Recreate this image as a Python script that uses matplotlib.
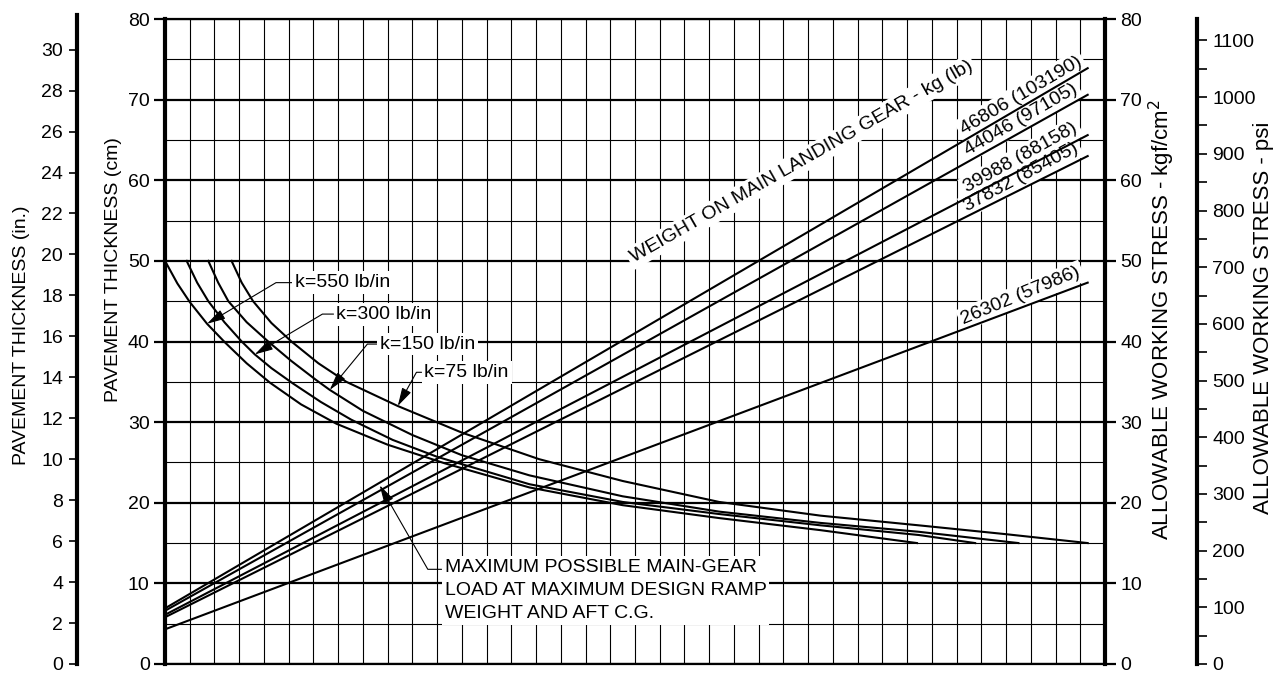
### 舗装厚さ設計チャート
import matplotlib
matplotlib.use('Agg')
import matplotlib.pyplot as plt
from matplotlib.ticker import MultipleLocator

plt.rcParams['font.family'] = ['Liberation Sans', 'DejaVu Sans']

### --- 目盛り --- ###
cm_ticks = list(range(0, 81, 10))
in_ticks = list(range(0, 31, 2))
psi_ticks = list(range(0, 1101, 100))
n_cols = 38
CM_PER_IN = 2.54
PSI_PER_KGF = 14.223

### --- 主脚荷重ライン (kg, lb) --- ###
w_kg = ['46806', '44046', '39988', '37832', '26302']
w_lb = ['103190', '97105', '88158', '85405', '57986']
w_x = [0, 37.3]
w_y0 = [6.9, 6.6, 6.1, 5.8, 4.3]
w_y1 = [73.9, 70.6, 65.6, 63.0, 47.3]
w_rot = [30.5, 30.0, 29.0, 28.3, 22.5]

### --- k値カーブ --- ###
k_names = ['k=550 lb/in', 'k=300 lb/in', 'k=150 lb/in', 'k=75 lb/in']
k550_x = [0, 0.5, 1.0, 1.7, 2.42, 3.3, 4.24, 5.5, 6.93, 9.0, 11.3, 14.73, 18.5, 22.4, 26.5, 30.4]
k550_y = [50, 47.2, 44.9, 42.2, 39.9, 37.3, 34.9, 32.2, 29.8, 27.2, 24.9, 21.9, 19.7, 18.1, 16.6, 15.0]
k300_x = [0.875, 1.3, 1.75, 2.4, 3.1, 3.63, 4.3, 5.17, 6.3, 7.53, 9.2, 11.0, 14.73, 18.5, 22.4,
          26.5, 30.47, 32.75]
k300_y = [50, 47.3, 45, 42.4, 40, 38.4, 36.7, 34.8, 32.5, 30.3, 27.8, 25.7, 22.3, 20.1, 18.6,
          17.2, 16.0, 15.0]
k150_x = [1.75, 2.15, 2.56, 3.3, 4.17, 5.1, 6.12, 6.66, 8.0, 10.0, 12.0, 14.73, 18.5, 22.4,
          26.5, 30.47, 34.5]
k150_y = [50, 47.3, 45, 42.4, 40, 37.6, 35.2, 34.0, 31.4, 28.4, 25.9, 23.4, 20.8, 18.9,
          17.5, 16.4, 15.0]
k75_x = [2.69, 3.1, 3.56, 4.3, 5.11, 6.2, 7.33, 9.41, 12.0, 15.13, 18.5, 22.4, 26.5, 30.47,
         34.0, 37.3]
k75_y = [50, 47.3, 45, 42.3, 40, 37.3, 35, 32.0, 28.7, 25.4, 22.7, 20.1, 18.4, 17.2,
         16.1, 15.0]

fs = 14
tfs = 14
white = dict(boxstyle='square,pad=0.15', fc='white', ec='none')
arrow = '-|>,head_length=0.8,head_width=0.22'

fig = plt.figure(figsize=(12.87, 6.74), dpi=100)
ax = fig.add_axes([165 / 1287, 10 / 674, 940 / 1287, 645 / 674])
ax.set_xlim(0, n_cols)
ax.set_ylim(0, 80)

# グリッド
ax.set_xticks(range(0, n_cols + 1))
ax.set_yticks(cm_ticks)
ax.yaxis.set_minor_locator(MultipleLocator(5))
ax.grid(axis='x', which='major', color='black', lw=0.8)
ax.grid(axis='y', which='major', color='black', lw=1.6)
ax.grid(axis='y', which='minor', color='black', lw=0.8)
ax.tick_params(axis='x', length=0, labelbottom=False)
ax.tick_params(axis='y', which='minor', length=0)
for s in ['left', 'right']:
    ax.spines[s].set_linewidth(3)
for s in ['top', 'bottom']:
    ax.spines[s].set_linewidth(1.6)

# インチ軸
ax_in = ax.twinx()
ax_in.set_ylim(0, 80 / CM_PER_IN)
for s in ['top', 'bottom', 'right']:
    ax_in.spines[s].set_visible(False)
ax_in.spines['left'].set_visible(True)
ax_in.spines['left'].set_position(('axes', -88 / 940))
ax_in.spines['left'].set_linewidth(3)
ax_in.spines['left'].set_bounds(0, 31.7)
ax_in.yaxis.tick_left()
ax_in.set_yticks(in_ticks)
ax_in.tick_params(axis='y', length=6, width=1.2, labelsize=tfs, pad=4)

# psi軸
ax_psi = ax.twinx()
ax_psi.set_ylim(0, 80 * PSI_PER_KGF)
for s in ['top', 'bottom', 'left']:
    ax_psi.spines[s].set_visible(False)
ax_psi.spines['right'].set_position(('axes', 1 + 92 / 940))
ax_psi.spines['right'].set_linewidth(3)
ax_psi.set_yticks(psi_ticks)
ax_psi.yaxis.set_minor_locator(MultipleLocator(50))
ax_psi.tick_params(axis='y', which='both', length=7, width=1.2, labelsize=tfs, pad=4)

ax.yaxis.set_ticks_position('both')
ax.tick_params(axis='y', which='major', left=True, right=True, labelleft=True,
               labelright=True, length=8, width=1.6, labelsize=tfs, pad=3)

# 荷重ライン
for i in range(len(w_kg)):
    ax.plot(w_x, [w_y0[i], w_y1[i]], color='black', lw=1.5, zorder=4)
    xm = 34.6
    ym = w_y0[i] + (w_y1[i] - w_y0[i]) * xm / w_x[1] + 1.5
    ax.text(xm, ym, f'{w_kg[i]} ({w_lb[i]})', rotation=w_rot[i], ha='center',
            va='center', fontsize=fs, bbox=white, zorder=3)

ax.text(25.72, 62.3, 'WEIGHT ON MAIN LANDING GEAR - kg (lb)', rotation=29.7,
        ha='center', va='center', fontsize=fs, bbox=white, zorder=3)

# k値カーブ
for xs, ys in [(k550_x, k550_y), (k300_x, k300_y), (k150_x, k150_y), (k75_x, k75_y)]:
    ax.plot(xs, ys, color='black', lw=1.5, zorder=4)

k_text = [(5.25, 47.3), (6.93, 43.4), (8.68, 39.68), (10.49, 36.18)]
k_tip = [(1.7, 42.2), (3.63, 38.4), (6.66, 34.0), (9.41, 32.0)]
k_ang = [30.8, 30.8, 50.6, 61.0]
for name, xt, tip, ang in zip(k_names, k_text, k_tip, k_ang):
    ax.annotate(name, xy=tip, xytext=xt, ha='left', va='center', fontsize=fs,
                bbox=white, zorder=5,
                arrowprops=dict(arrowstyle=arrow,
                                connectionstyle=f'angle,angleA=0,angleB={ang},rad=0',
                                color='black', lw=0.8, shrinkA=0, shrinkB=0,
                                relpos=(0, 0.5)))

ax.annotate('MAXIMUM POSSIBLE MAIN-GEAR\nLOAD AT MAXIMUM DESIGN RAMP\nWEIGHT AND AFT C.G.',
            xy=(8.68, 22.16), xytext=(11.3, 9.1), ha='left', va='center',
            multialignment='left', fontsize=fs, linespacing=1.45, bbox=white, zorder=5,
            arrowprops=dict(arrowstyle=arrow,
                            connectionstyle='angle,angleA=0,angleB=-60.2,rad=0',
                            color='black', lw=0.8, shrinkA=0, shrinkB=0,
                            relpos=(0, 0.84)))

# 軸ラベル
fig.text(22 / 1287, 1 - 335 / 674, 'PAVEMENT THICKNESS (in.)', rotation=90,
         ha='center', va='center', fontsize=fs)
fig.text(113 / 1287, 1 - 270 / 674, 'PAVEMENT THICKNESS (cm)', rotation=90,
         ha='center', va='center', fontsize=fs)
fig.text(1162 / 1287, 1 - 320 / 674, 'ALLOWABLE WORKING STRESS - kgf/cm$^2$', rotation=90,
         ha='center', va='center', fontsize=16)
fig.text(1264 / 1287, 1 - 318 / 674, 'ALLOWABLE WORKING STRESS - psi', rotation=90,
         ha='center', va='center', fontsize=16)

fig.savefig('out.png', dpi=100)
